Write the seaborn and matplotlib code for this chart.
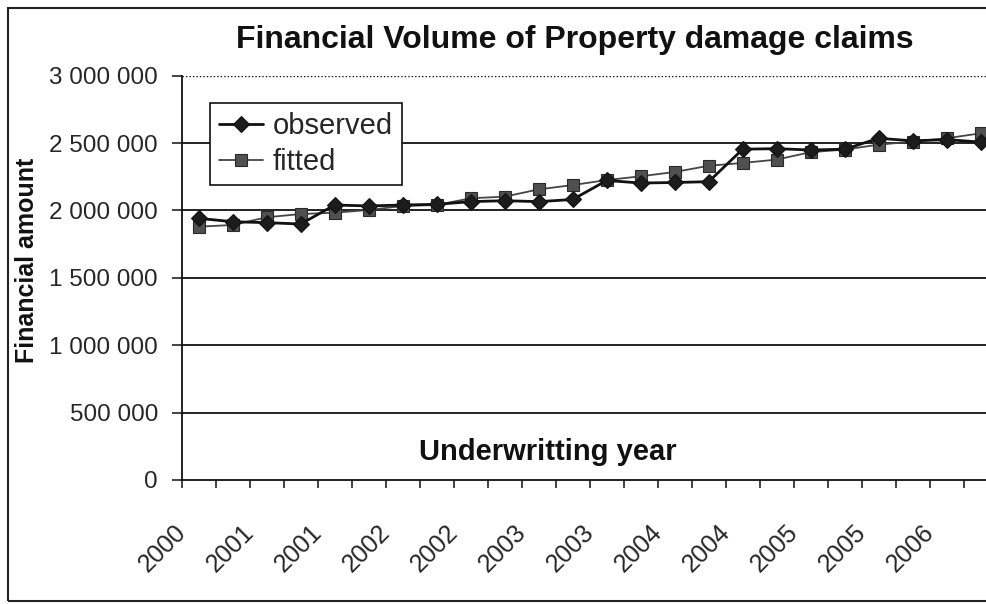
import matplotlib
matplotlib.use("Agg")
import matplotlib.pyplot as plt
import matplotlib.patches as mpatches
import matplotlib.transforms as mtransforms
import seaborn as sns
import numpy as np
import pandas as pd

# Quarterly underwriting periods (24 points) and the two series
period_index = list(range(24))
observed = [1941000, 1916000, 1909000, 1899000,
            2040000, 2033000, 2040000, 2045000,
            2065000, 2072000, 2065000, 2081000,
            2222000, 2203000, 2207000, 2213000,
            2454000, 2458000, 2448000, 2454000,
            2535000, 2516000, 2525000, 2507000]
fitted = [1879000, 1892000, 1949000, 1973000,
          1983000, 2003000, 2033000, 2040000,
          2090000, 2102000, 2156000, 2188000,
          2225000, 2253000, 2285000, 2331000,
          2352000, 2377000, 2432000, 2451000,
          2488000, 2510000, 2535000, 2572000]
year_labels = ["2000", "2001", "2001", "2002", "2002", "2003",
               "2003", "2004", "2004", "2005", "2005", "2006"]
y_ticks = [0, 500000, 1000000, 1500000, 2000000, 2500000, 3000000]

sns.set_style("ticks")
plt.rcParams["font.family"] = ["Liberation Sans", "DejaVu Sans"]

W, H = 986, 604
fig = plt.figure(figsize=(W / 100, H / 100), dpi=100)
fig.patch.set_facecolor("white")

# plot area in pixel terms
left, right, top, bottom = 181.7, 997.7, 75.6, 480.0
ax = fig.add_axes([left / W, 1 - bottom / H, (right - left) / W, (bottom - top) / H])
ax.set_facecolor("white")

df = pd.DataFrame({
    "pos": np.array(period_index) + 0.5,
    "observed": observed,
    "fitted": fitted,
})

sns.lineplot(data=df, x="pos", y="fitted", ax=ax, color="#454545", lw=1.3,
             marker="s", markersize=8.5, markerfacecolor="#505050",
             markeredgecolor="#2a2a2a", markeredgewidth=0.8, label="fitted",
             zorder=3)
sns.lineplot(data=df, x="pos", y="observed", ax=ax, color="#111111", lw=2.0,
             marker="D", markersize=8.5, markerfacecolor="#1c1c1c",
             markeredgecolor="#111111", markeredgewidth=0.8, label="observed",
             zorder=4)

ax.set_xlim(0, 24)
ax.set_ylim(0, 3000000)

# y axis
ax.set_yticks(y_ticks)
ax.set_yticklabels([f"{v:,}".replace(",", " ") for v in y_ticks], fontsize=17.5)
ax.yaxis.grid(True, color="#111111", lw=1.3)
gl = ax.yaxis.get_gridlines()
gl[-1].set_linestyle((0, (1, 1.5)))
gl[-1].set_linewidth(1.0)
gl[0].set_visible(False)

# x axis: tick marks between periods, labels on every other boundary
ax.set_xticks(list(range(0, 24, 2)))
ax.set_xticklabels(year_labels, fontsize=18, rotation=45, ha="right",
                   va="top", rotation_mode="anchor")
ax.set_xticks(list(range(1, 25, 2)), minor=True)
ax.tick_params(axis="x", which="both", direction="out", length=6, width=1.1,
               color="#111111", pad=23)
ax.tick_params(axis="y", which="both", direction="out", length=7, width=1.1,
               color="#111111", pad=10)
shift = mtransforms.ScaledTranslation(-8 / 100, 0, fig.dpi_scale_trans)
for lab in ax.get_xticklabels():
    lab.set_transform(lab.get_transform() + shift)

for side in ["left", "bottom"]:
    ax.spines[side].set_color("#111111")
    ax.spines[side].set_linewidth(1.3)
ax.spines["top"].set_visible(False)
ax.spines["right"].set_visible(False)

ax.set_xlabel("")
ax.set_ylabel("")

ax.text((548 - left) / (right - left), (bottom - 452) / (bottom - top),
        "Underwritting year", transform=ax.transAxes, ha="center",
        va="center", fontsize=21, fontweight="bold", color="#111111")

fig.text(27 / W, 1 - 260 / H, "Financial amount", rotation=90, ha="center",
         va="center", fontsize=18, fontweight="bold", color="#111111")
fig.text(575 / W, 1 - 40 / H, "Financial Volume of Property damage claims",
         ha="center", va="center", fontsize=23, fontweight="bold",
         color="#111111")

handles, labels = ax.get_legend_handles_labels()
order = [labels.index("observed"), labels.index("fitted")]
leg = ax.legend([handles[i] for i in order], [labels[i] for i in order],
                loc="upper left", bbox_to_anchor=(210 / W, 1 - 103 / H),
                bbox_transform=fig.transFigure, fontsize=21, frameon=True,
                fancybox=False, borderaxespad=0, borderpad=0.3,
                handlelength=1.5, handletextpad=0.35, labelspacing=0.3)
leg.get_frame().set_edgecolor("#111111")
leg.get_frame().set_linewidth(1.2)
leg.get_frame().set_facecolor("white")
leg.get_frame().set_alpha(1)

# outer chart border
fig.patches.append(mpatches.Rectangle((8 / W, 3 / H), 1.2, (601 - 8) / H,
                                      transform=fig.transFigure, fill=False,
                                      lw=1.5, edgecolor="#222222"))

fig.savefig("out.png", dpi=100)
